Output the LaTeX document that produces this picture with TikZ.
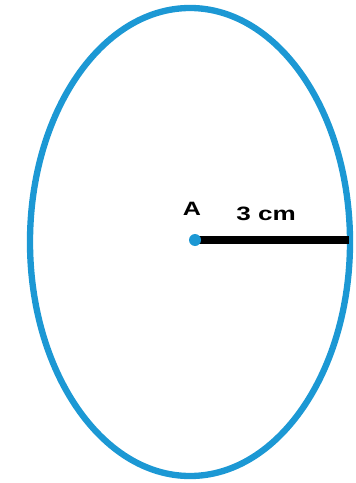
\documentclass[tikz,border=0pt]{standalone}
\usepackage{fontspec}
\setmainfont{Liberation Sans}
\usepackage{xcolor}
\usetikzlibrary{positioning}
\definecolor{rimblue}{RGB}{28,152,212}
\begin{document}
\begin{tikzpicture}[x=.02cm,y=-.02cm,
  rim/.style={draw=rimblue,line width=3.6pt},
  radius line/.style={line width=4.2pt,black},
  lbl/.style={font=\bfseries\fontsize{11}{13}\selectfont,inner sep=0pt}]
\useasboundingbox (0,0) rectangle (355,483);
\draw[rim] (190,242) ellipse [x radius=160,y radius=234];
\coordinate (A) at (195,240);
\coordinate (edge) at (349,240);
\draw[radius line] (A)--(edge);
\fill[rimblue] (A) circle (6);
\node[lbl] (lblA) at (192,209) {\scalebox{1.3}[1]{A}};
\node[lbl] (lblr) at (266,213.5) {\scalebox{1.35}[1]{3 cm}};
\end{tikzpicture}
\end{document}
